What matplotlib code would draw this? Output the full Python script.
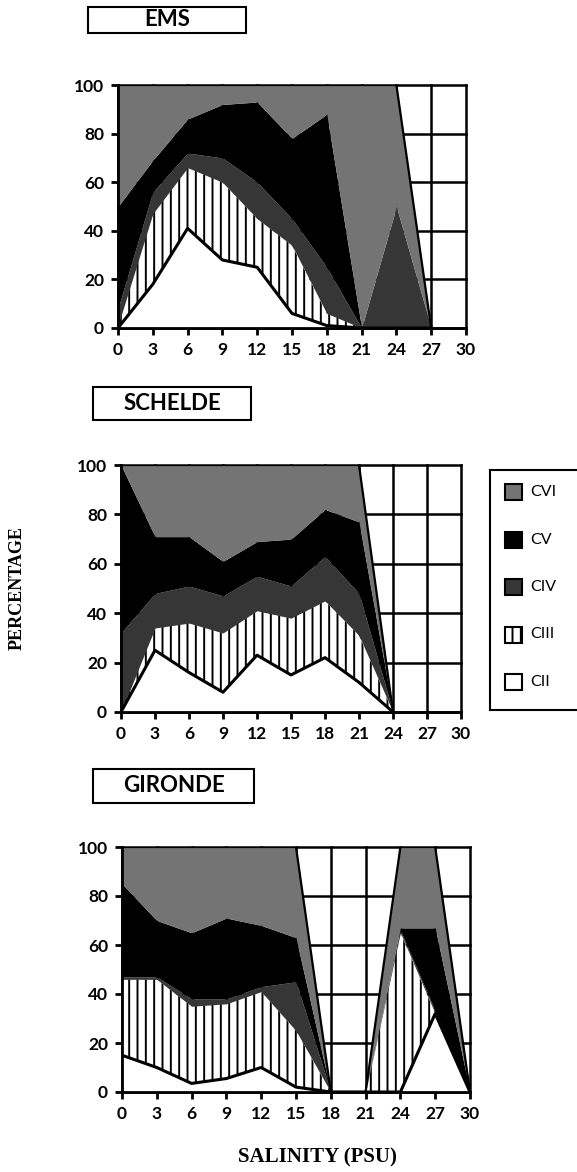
import numpy as np
import matplotlib
matplotlib.use("Agg")
import matplotlib.pyplot as plt
from matplotlib.patches import Rectangle

plt.rcParams['hatch.linewidth'] = 1.4
plt.rcParams['font.family'] = ['Lato', 'DejaVu Sans']

stages = ['CII', 'CIII', 'CIV', 'CV', 'CVI']
legend_order = ['CVI', 'CV', 'CIV', 'CIII', 'CII']
x_ticks = [0, 3, 6, 9, 12, 15, 18, 21, 24, 27, 30]
y_ticks = [0, 20, 40, 60, 80, 100]

# percentage of each stage at each salinity (PSU)
ems_sal = [0, 3, 6, 9, 12, 15, 18, 21, 24, 27]
ems_cii = [0, 18, 41, 28, 25, 6, 1, 0, 0, 0]
ems_ciii = [1, 29, 25, 32, 20, 28, 5, 0, 0, 0]
ems_civ = [7, 9, 6, 10, 15, 11, 19, 0, 50, 0]
ems_cv = [42, 13, 14, 22, 33, 33, 63, 0, 0, 0]
ems_cvi = [50, 31, 14, 8, 7, 22, 12, 100, 50, 0]

schelde_sal = [0, 3, 6, 9, 12, 15, 18, 21, 24]
schelde_cii = [0, 25, 16, 8, 23, 15, 22, 12, 0]
schelde_ciii = [0, 9, 20, 24, 18, 23, 23, 19, 0]
schelde_civ = [32, 14, 15, 15, 14, 13, 18, 17, 0]
schelde_cv = [68, 23, 20, 14, 14, 19, 19, 29, 0]
schelde_cvi = [0, 29, 29, 39, 31, 30, 18, 23, 0]

gironde_sal = [0, 3, 6, 9, 12, 15, 18, 21, 24, 27, 30]
gironde_cii = [15, 10, 3.5, 5.5, 10, 2, 0, 0, 0, 32, 0]
gironde_ciii = [31, 36, 31.5, 30.5, 31, 23, 0, 0, 65, 0, 0]
gironde_civ = [1, 1, 3, 2, 2, 20, 0, 0, 1, 1, 0]
gironde_cv = [38, 23, 27, 33, 25, 18, 0, 0, 1, 34, 0]
gironde_cvi = [15, 30, 35, 29, 32, 37, 0, 0, 33, 33, 0]

# fill styles per stage
styles = {
    'CII': dict(facecolor='white', hatch=None),
    'CIII': dict(facecolor='white', hatch='||'),
    'CIV': dict(facecolor='#363636', hatch=None),
    'CV': dict(facecolor='black', hatch=None),
    'CVI': dict(facecolor='#747474', hatch=None),
}

W, H = 577, 1172
fig = plt.figure(figsize=(W / 100, H / 100), dpi=100)


def px_axes(left, top, right, bottom):
    return fig.add_axes([left / W, 1 - bottom / H, (right - left) / W, (bottom - top) / H])


def draw_panel(ax, sal, layers):
    sal = np.array(sal)
    cum = np.cumsum(np.array(layers, dtype=float), axis=0)
    lower = np.zeros(len(sal))
    for name, upper in zip(stages, cum):
        st = styles[name]
        ax.fill_between(sal, lower, upper, facecolor=st['facecolor'], hatch=st['hatch'],
                        edgecolor='black', linewidth=0, zorder=1)
        lower = upper
    ax.plot(sal, cum[0], color='black', lw=2.2, zorder=2)
    ax.plot(sal, cum[-1], color='black', lw=1.6, zorder=2)
    # grid sits under the fills
    for xv in x_ticks:
        ax.axvline(xv, color='black', lw=1.8, zorder=0.5, clip_on=False)
    for yv in y_ticks:
        ax.axhline(yv, color='black', lw=1.8, zorder=0.5, clip_on=False)
    ax.set_xlim(0, 30)
    ax.set_ylim(0, 100)
    ax.set_xticks(x_ticks)
    ax.set_yticks(y_ticks)
    for s in ['top', 'right']:
        ax.spines[s].set_visible(False)
    for s in ['left', 'bottom']:
        ax.spines[s].set_linewidth(2)
        ax.spines[s].set_zorder(3)
    ax.tick_params(direction='out', length=5, width=2, labelsize=12.5, pad=5)
    for lab in ax.get_xticklabels() + ax.get_yticklabels():
        lab.set_fontweight('bold')


def title_box(text, left, top, right, bottom):
    fig.patches.append(Rectangle((left / W, 1 - bottom / H), (right - left) / W, (bottom - top) / H,
                                 transform=fig.transFigure, facecolor='white',
                                 edgecolor='black', lw=1.5))
    fig.text((left + right) / 2 / W, 1 - (top + bottom) / 2 / H, text, ha='center', va='center',
             fontsize=16, fontweight='bold')


ax1 = px_axes(118, 85, 466, 328)
draw_panel(ax1, ems_sal, [ems_cii, ems_ciii, ems_civ, ems_cv, ems_cvi])
ax2 = px_axes(121, 465, 461, 712)
draw_panel(ax2, schelde_sal, [schelde_cii, schelde_ciii, schelde_civ, schelde_cv, schelde_cvi])
ax3 = px_axes(122, 847, 470, 1092)
draw_panel(ax3, gironde_sal, [gironde_cii, gironde_ciii, gironde_civ, gironde_cv, gironde_cvi])

title_box('EMS', 88, 7, 246, 33)
title_box('SCHELDE', 93, 387, 251, 420)
title_box('GIRONDE', 93, 769, 254, 803)

# legend drawn by hand so the frame runs off the right edge like the original
leg = px_axes(490, 470, 600, 710)
leg.set_xlim(0, 110)
leg.set_ylim(240, 0)
leg.set_xticks([])
leg.set_yticks([])
for s in leg.spines.values():
    s.set_linewidth(1.5)
for i, name in enumerate(legend_order):
    yc = 22 + i * 47.5
    st = styles[name]
    leg.add_patch(Rectangle((15, yc - 8), 17, 16, facecolor=st['facecolor'], hatch=st['hatch'],
                            edgecolor='black', lw=1.5))
    leg.text(40, yc, name, va='center', ha='left', fontsize=11.5)

fig.text(17 / W, 1 - 588 / H, 'PERCENTAGE', rotation=90, ha='center', va='center',
         fontsize=13, fontweight='bold', family='Liberation Serif')
fig.text(317 / W, 1 - 1157 / H, 'SALINITY (PSU)', ha='center', va='center',
         fontsize=15, fontweight='bold', family='Liberation Serif')

fig.savefig('out.png', dpi=100)
